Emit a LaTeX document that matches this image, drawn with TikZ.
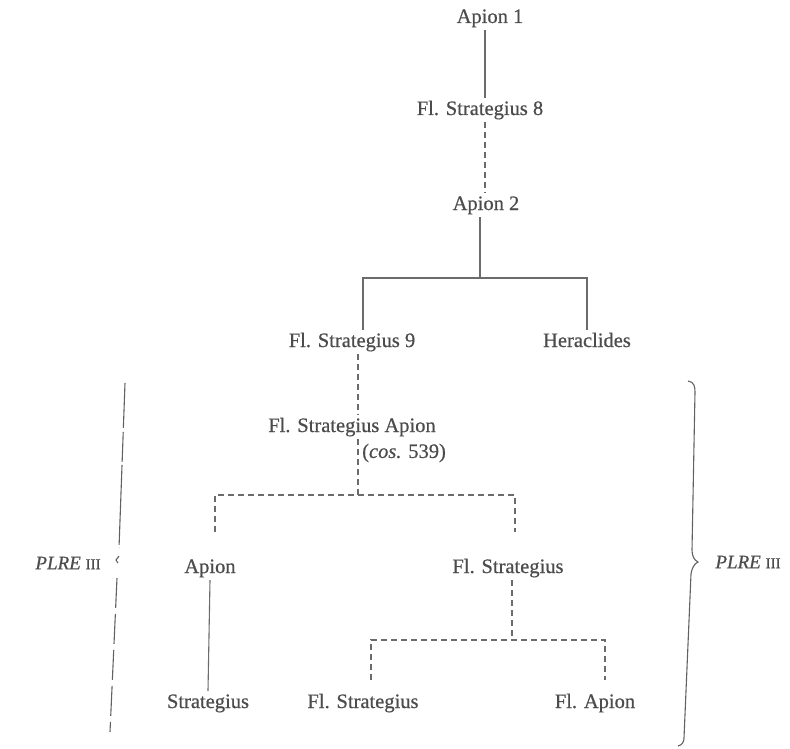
\documentclass[tikz,border=0pt]{standalone}
\usepackage{fontspec}
\setmainfont[FakeBold=0.6]{Liberation Serif}
\newcommand{\smallnum}[1]{\textup{\fontsize{15}{18}\selectfont #1}}
\begin{document}
\begin{tikzpicture}[x=1pt,y=-1pt,
  every node/.style={text=black!70, font=\fontsize{20.5}{24}\selectfont},
  person/.style={inner sep=0pt, text height=14pt, text depth=4pt, inner ysep=3pt},
  tie/.style={draw=black!58, line width=1.1pt},
  loose/.style={draw=black!58, line width=1.1pt, dash pattern=on 6pt off 4pt},
  bracket/.style={draw=black!62, line width=1.1pt},
  lbl/.style={font=\fontsize{19}{22}\selectfont\itshape}]
\useasboundingbox (0,0) rectangle (790,749);
% people
\node[person] (a1)  at (490,18)  {Apion 1};
\node[person] (fs8) at (480,110) {Fl. Strategius 8};
\node[person] (a2)  at (486,205) {Apion 2};
\node[person] (fs9) at (352,342) {Fl. Strategius 9};
\node[person] (her) at (587,342) {Heraclides};
\node[person] (fsa) at (352,427) {Fl. Strategius Apion};
\node[inner sep=0pt, anchor=west] (cos) at (362,453) {(\textit{cos.} 539)};
\node[person] (ap)  at (210,568) {Apion};
\node[person] (fsr) at (508,568) {Fl. Strategius};
\node[person] (st)  at (208,703) {Strategius};
\node[person] (fsb) at (363,703) {Fl. Strategius};
\node[person] (fa)  at (595,703) {Fl. Apion};
% columns and junctions
\coordinate (c0) at (485,0);
\coordinate (j1) at (480,278);
\coordinate (j1l) at (363,278);
\coordinate (j1r) at (587,278);
\coordinate (c1) at (358,0);
\coordinate (j2) at (358,495);
\coordinate (j2l) at (215,495);
\coordinate (j2r) at (515,495);
\coordinate (d2l) at (215,532);
\coordinate (d2r) at (515,532);
\coordinate (j3) at (512,640);
\coordinate (j3l) at (371,640);
\coordinate (j3r) at (605,640);
\coordinate (d3l) at (371,680);
\coordinate (d3r) at (605,680);
% connectors
\draw[tie] (a1.south -| c0) -- (fs8.north -| c0);
\draw[loose] (fs8.south -| c0) -- (a2.north -| c0);
\draw[tie] (a2.south -| j1) -- (j1);
\draw[tie] (fs9.north -| j1l) -- (j1l) -- (j1r) -- (her.north -| j1r);
\draw[loose] (fs9.south -| c1) -- (fsa.north -| c1);
\draw[loose] (fsa.south -| c1) -- (j2);
\draw[loose] (d2l) -- (j2l) -- (j2r) -- (d2r);
\draw[tie] (ap.south) -- (st.north);
\draw[loose] (fsr.south -| j3) -- (j3);
\draw[loose] (d3l) -- (j3l) -- (j3r) -- (d3r);
% braces
\draw[bracket] (688,381) .. controls (694,382) and (695,386) .. (695,392)
  -- (692,550) .. controls (692,556) and (694,560) .. (698,562)
  .. controls (694,564) and (692,568) .. (691,574)
  -- (684,738) .. controls (684,742) and (682,745) .. (678,746);
\draw[bracket, dash pattern=on 45pt off 4pt on 30pt off 3pt on 80pt off 3pt] (125,383) -- (119,548);
\draw[bracket] (119,556) -- (116,560) -- (118,563);
\draw[bracket, dash pattern=on 30pt off 6pt] (117,578) -- (110,732);
% labels
\node[lbl, inner sep=0pt] (pl) at (68,563) {PLRE \smallnum{III}};
\node[lbl, inner sep=0pt] (pr) at (748,562) {PLRE \smallnum{III}};
\end{tikzpicture}
\end{document}
